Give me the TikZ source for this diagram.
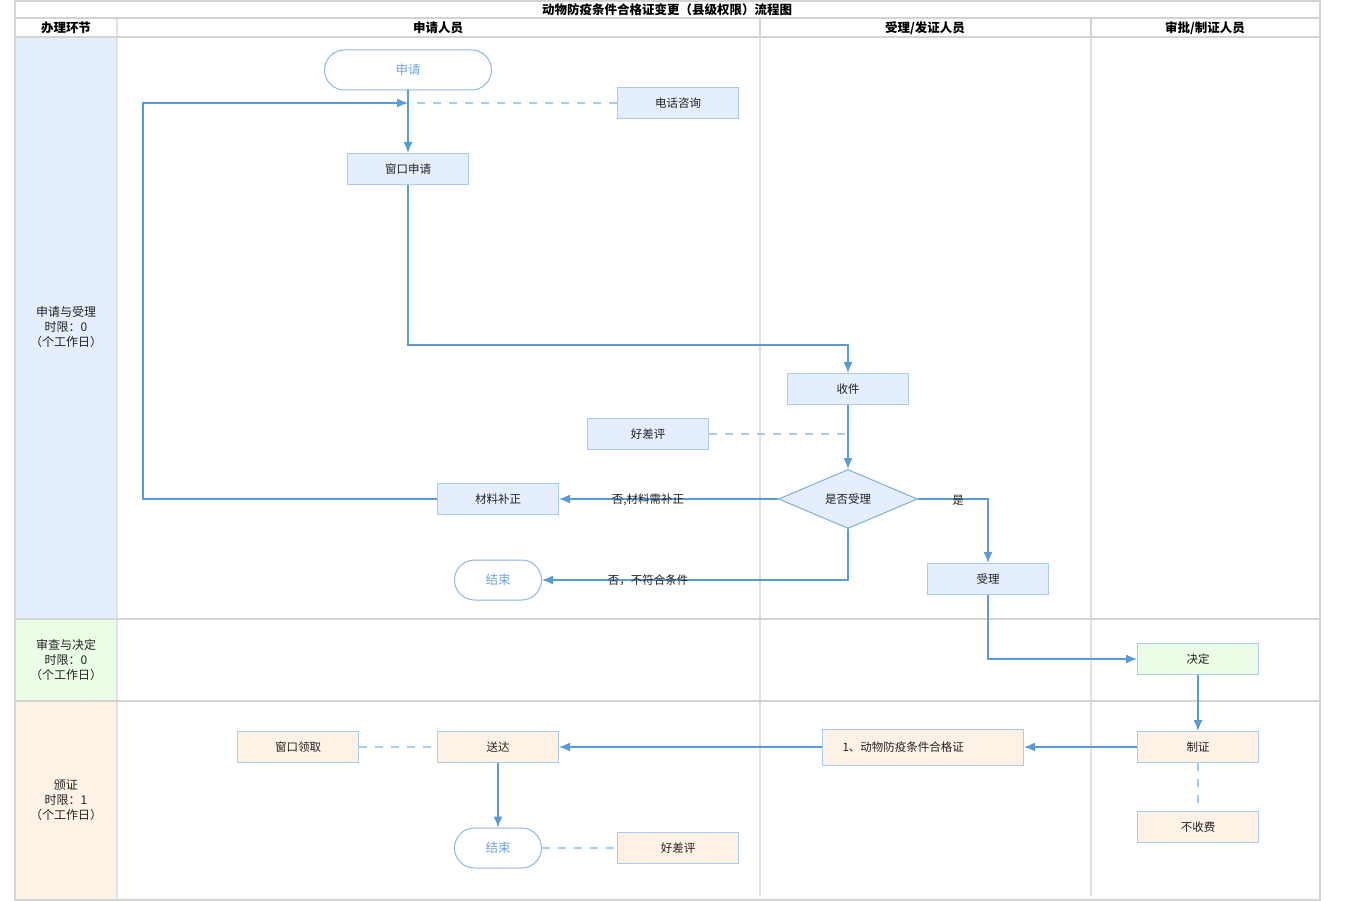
\documentclass[tikz,border=0pt]{standalone}
\usepackage{fontspec}
\setmainfont{Noto Sans CJK SC}
\usetikzlibrary{arrows.meta,shapes.geometric}
\definecolor{lineblue}{HTML}{5B9BD5}
\definecolor{dashblue}{HTML}{A9CBEE}
\definecolor{boxborder}{HTML}{A8CBEF}
\definecolor{bluefill}{HTML}{E4EEFD}
\definecolor{orangefill}{HTML}{FEF2E6}
\definecolor{greenfill}{HTML}{ECFDE7}
\definecolor{termtext}{HTML}{6FA6DC}
\definecolor{termborder}{HTML}{8DB8E8}
\definecolor{gridgray}{HTML}{D3D3D3}
\definecolor{gridlight}{HTML}{E2E2E2}
\definecolor{txt}{HTML}{222222}
\tikzset{
  box/.style={draw=boxborder, line width=1pt, fill=bluefill, minimum width=121pt, minimum height=31pt, inner sep=0pt, font=\fontsize{11.5}{13}\selectfont, text=txt},
  obox/.style={box, fill=orangefill},
  gbox/.style={box, fill=greenfill},
  term/.style={draw=termborder, line width=1pt, fill=white, rounded corners=20pt, minimum height=40pt, inner sep=0pt, font=\fontsize{12.5}{14}\selectfont, text=termtext},
  dia/.style={diamond, draw=lineblue!80, line width=1pt, fill=bluefill, minimum width=139pt, minimum height=59pt, inner sep=0pt, aspect=2.35, font=\fontsize{11.5}{13}\selectfont, text=txt},
  flow/.style={draw=lineblue, line width=1.4pt, -{Latex[length=11pt,width=9pt]}},
  dashline/.style={draw=dashblue, line width=1.4pt, dash pattern=on 8pt off 8pt},
  elabel/.style={font=\fontsize{11.5}{13}\selectfont, text=txt, inner sep=0pt},
  head/.style={font=\bfseries\fontsize{12.5}{14}\selectfont, text=black, inner sep=0pt},
  lane/.style={font=\fontsize{12}{15}\selectfont, text=txt, align=center, inner sep=0pt}
}
\begin{document}
\begin{tikzpicture}[x=1pt,y=-1pt]
\useasboundingbox (0,0) rectangle (1350,901);
\fill[white] (0,0) rectangle (1350,901);
% lane colour fills
\fill[bluefill] (16,37) rectangle (117,619);
\fill[greenfill] (16,619) rectangle (117,701);
\fill[orangefill] (16,701) rectangle (117,900);
% vertical inner lines
\draw[gridlight, line width=1.5pt] (760,37) -- (760,896);
\draw[gridlight, line width=1.5pt] (1091,37) -- (1091,896);
\draw[gridgray, line width=1.5pt] (760,18) -- (760,37);
\draw[gridgray, line width=1.5pt] (1091,18) -- (1091,37);
\draw[gridlight, line width=2pt] (117,18) -- (117,900);
% horizontal lines
\draw[gridgray, line width=2pt] (15,18) -- (1320,18);
\draw[gridgray, line width=2pt] (15,37) -- (1320,37);
\draw[gridgray, line width=2pt] (15,619) -- (1320,619);
\draw[gridgray, line width=2pt] (15,701) -- (1320,701);
% outer frame
\draw[gridgray, line width=2pt] (15,1) rectangle (1320,900);
% titles
\node[head] (title) at (667,10) {动物防疫条件合格证变更（县级权限）流程图};
\node[head] (h0) at (66,28) {办理环节};
\node[head] (h1) at (438,28) {申请人员};
\node[head] (h2) at (925,28) {受理/发证人员};
\node[head] (h3) at (1205,28) {审批/制证人员};
\node[lane] (l1) at (66,327) {申请与受理\\时限：0\\（个工作日）};
\node[lane] (l2) at (66,660) {审查与决定\\时限：0\\（个工作日）};
\node[lane] (l3) at (66,800) {颁证\\时限：1\\（个工作日）};
% nodes
\node[term, minimum width=167pt] (start) at (408,70) {申请};
\node[box] (phone) at (678,103) {电话咨询};
\node[box] (win) at (408,169) {窗口申请};
\node[box] (recv) at (848,389) {收件};
\node[box] (eval1) at (648,434) {好差评};
\node[dia] (dec) at (848,499) {是否受理};
\node[box] (fix) at (498,499) {材料补正};
\node[term, minimum width=87pt] (end1) at (498,580) {结束};
\node[box] (acc) at (988,579) {受理};
\node[gbox] (decide) at (1198,659) {决定};
\node[obox] (make) at (1198,747) {制证};
\node[obox] (nofee) at (1198,827) {不收费};
\node[obox, minimum width=201pt, minimum height=36pt, inner xsep=20pt, text width=161pt, align=left] (cert) at (923,747) {1、动物防疫条件合格证};
\node[obox] (send) at (498,747) {送达};
\node[obox] (pick) at (298,747) {窗口领取};
\node[term, minimum width=87pt] (end2) at (498,848) {结束};
\node[obox] (eval2) at (678,848) {好差评};
\coordinate (j1) at (408,103);
\coordinate (j2) at (848,434);
% connectors
\draw[dashline] (phone.west) -- (j1);
\draw[flow] (start.south) -- (win.north);
\draw[flow] (fix.west) -- (143,499) -- (143,103) -- (j1);
\draw[flow] (win.south) -- (408,345) -- (848,345) -- (recv.north);
\draw[dashline] (eval1.east) -- (j2);
\draw[flow] (recv.south) -- (dec.north);
\draw[flow] (dec.west) -- (fix.east);
\node[elabel] (lab1) at (648,500) {否,材料需补正};
\draw[flow] (dec.south) -- (848,580) -- (end1.east);
\node[elabel] (lab2) at (648,580) {否，不符合条件};
\draw[flow] (dec.east) -- (988,499) -- (acc.north);
\node[elabel] (lab3) at (958,500) {是};
\draw[flow] (acc.south) -- (988,659) -- (decide.west);
\draw[flow] (decide.south) -- (make.north);
\draw[flow] (make.west) -- (cert.east);
\draw[flow] (cert.west) -- (send.east);
\draw[dashline] (pick.east) -- (send.west);
\draw[flow] (send.south) -- (end2.north);
\draw[dashline] (end2.east) -- (eval2.west);
\draw[dashline] (make.south) -- (nofee.north);
\end{tikzpicture}
\end{document}
